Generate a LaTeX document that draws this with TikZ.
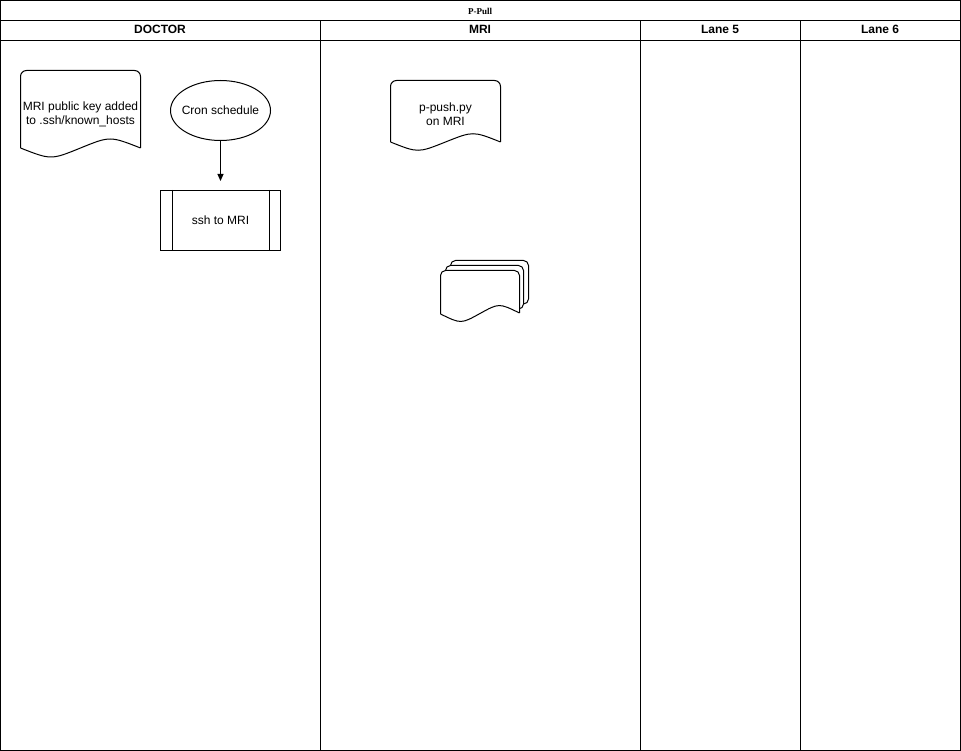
\documentclass[tikz,border=0pt]{standalone}
\usepackage{fontspec}
\setmainfont{Liberation Sans}
\newfontfamily\titlefont{Liberation Serif}
\usetikzlibrary{arrows.meta,shapes.geometric}
\begin{document}
\begin{tikzpicture}[x=1pt,y=-1pt,line width=1pt,
  lbl/.style={font=\fontsize{12}{14}\selectfont,align=center,inner sep=0pt},
  hdr/.style={font=\fontsize{12}{14}\selectfont\bfseries,inner sep=0pt},
  flow/.style={draw,-{Triangle[length=7pt,width=6pt]}}]
\useasboundingbox (0,0) rectangle (961,751);
% pool frame, title band and lane header band
\draw (0.5,0.5) rectangle (960.5,750.5);
\draw (0.5,20.5) -- (960.5,20.5);
\draw (0.5,40.5) -- (960.5,40.5);
\foreach \x in {320.5,640.5,800.5} \draw (\x,20.5) -- (\x,750.5);
\node[font=\titlefont\fontsize{9}{10}\selectfont\bfseries,inner sep=0pt] (title) at (480,11) {P-Pull};
\node[hdr] (hdoctor) at (160,29) {DOCTOR};
\node[hdr] (hmri) at (480,29) {MRI};
\node[hdr] (hlane5) at (720,29) {Lane 5};
\node[hdr] (hlane6) at (880,29) {Lane 6};

% document: public key
\draw[rounded corners=6pt] (20.5,148) -- (20.5,70.5) -- (140.5,70.5) -- (140.5,148);
\draw (140.5,148) .. controls (110,136) .. (80.5,148) .. controls (51,160) .. (20.5,148);
\node[lbl] (pubkey) at (80.5,114) {MRI public key added\\to .ssh/known\_hosts};

% start event
\node[draw,ellipse,minimum width=100pt,minimum height=60pt,inner sep=0pt,
  label={[lbl]center:Cron schedule}] (cron) at (220.5,110.5) {};

% predefined process
\node[draw,minimum width=120pt,minimum height=60pt,lbl] (ssh) at (220.5,220.5) {ssh to MRI};
\draw ([xshift=12pt]ssh.north west) -- ([xshift=12pt]ssh.south west);
\draw ([xshift=-12pt]ssh.north east) -- ([xshift=-12pt]ssh.south east);
\coordinate (sshin) at (220.5,181);
\draw[flow] (cron.south) -- (sshin);

% document: p-push.py
\draw[rounded corners=6pt] (390.5,142) -- (390.5,80.5) -- (500.5,80.5) -- (500.5,142);
\draw (500.5,142) .. controls (473,131) .. (445.5,142) .. controls (418,153) .. (390.5,142);
\node[lbl] (ppush) at (445.5,114.5) {p-push.py\\on MRI};

% stacked documents
\draw[rounded corners=5pt] (450.5,266) -- (450.5,260.5) -- (528.5,260.5) -- (528.5,304) -- (524,304);
\draw[rounded corners=5pt,fill=white] (445.5,271) -- (445.5,265.5) -- (523.5,265.5) -- (523.5,309) -- (519,309);
\draw[rounded corners=5pt,fill=white] (440.5,314) -- (440.5,270.5) -- (519.5,270.5) -- (519.5,313);
\draw (519.5,313) .. controls (499,303) .. (480,313.5) .. controls (461,324) .. (440.5,314);
\end{tikzpicture}
\end{document}
